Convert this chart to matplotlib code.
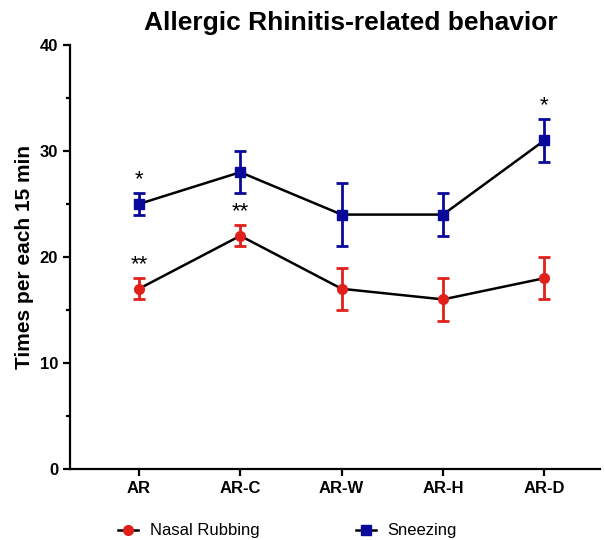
import matplotlib
matplotlib.use("Agg")
import matplotlib.pyplot as plt
import numpy as np
from matplotlib.lines import Line2D

categories = ["AR", "AR-C", "AR-W", "AR-H", "AR-D"]
nasal_mean = [17, 22, 17, 16, 18]
nasal_err = [1, 1, 2, 2, 2]
sneeze_mean = [25, 28, 24, 24, 31]
sneeze_err = [1, 2, 3, 2, 2]
nasal_marks = ["**", "**", "", "", ""]
sneeze_marks = ["*", "", "", "", "*"]

RED = "#e0201b"
BLUE = "#0a0a9a"

plt.rcParams["font.family"] = ["Liberation Sans", "DejaVu Sans"]

fig = plt.figure(figsize=(6.05, 5.4), dpi=100)
ax = fig.add_axes([0.1157, 0.1315, 0.8763, 0.7852])

x = np.arange(len(categories))

# lines (black) then error bars and markers in colour
ax.plot(x, nasal_mean, color="black", lw=1.8, zorder=2)
ax.plot(x, sneeze_mean, color="black", lw=1.8, zorder=2)
ax.errorbar(x, nasal_mean, yerr=nasal_err, fmt="o", color=RED, ms=7,
            elinewidth=2, capsize=4.5, capthick=2, zorder=3)
ax.errorbar(x, sneeze_mean, yerr=sneeze_err, fmt="s", color=BLUE, ms=7.5,
            elinewidth=2, capsize=4.5, capthick=2, zorder=3)

for xi, m, e, s in zip(x, nasal_mean, nasal_err, nasal_marks):
    if s:
        ax.text(xi, m + e + 0.3, s, ha="center", va="bottom", fontsize=16)
for xi, m, e, s in zip(x, sneeze_mean, sneeze_err, sneeze_marks):
    if s:
        ax.text(xi, m + e + 0.3, s, ha="center", va="bottom", fontsize=16)

ax.set_xlim(-0.68, 4.55)
ax.set_ylim(0, 40)
ax.set_yticks([0, 10, 20, 30, 40])
ax.set_yticks([5, 15, 25, 35], minor=True)
ax.set_xticks(x)
ax.set_xticklabels(categories, fontweight="bold", fontsize=12)
for lab in ax.get_yticklabels():
    lab.set_fontweight("bold")
    lab.set_fontsize(12)
ax.tick_params(axis="both", which="major", length=5, width=1.6)
ax.tick_params(axis="y", which="minor", length=3, width=1.6)

for side in ["top", "right"]:
    ax.spines[side].set_visible(False)
for side in ["left", "bottom"]:
    ax.spines[side].set_linewidth(1.6)

ax.set_ylabel("Times per each 15 min", fontsize=15, fontweight="bold")
ax.set_title("Allergic Rhinitis-related behavior", fontsize=19,
             fontweight="bold", pad=11, x=0.53)

handles = [
    Line2D([0], [0], color="black", lw=1.8, marker="o", markersize=7,
           markerfacecolor=RED, markeredgecolor=RED),
    Line2D([0], [0], color="black", lw=1.8, marker="s", markersize=7,
           markerfacecolor=BLUE, markeredgecolor=BLUE),
]
fig.legend(handles, ["Nasal Rubbing", "Sneezing"], loc="lower left",
           bbox_to_anchor=(0.17, -0.025), ncol=2, frameon=False,
           fontsize=12, handlelength=1.2, handletextpad=0.7,
           columnspacing=5.8)

fig.savefig("out.png", dpi=100)
